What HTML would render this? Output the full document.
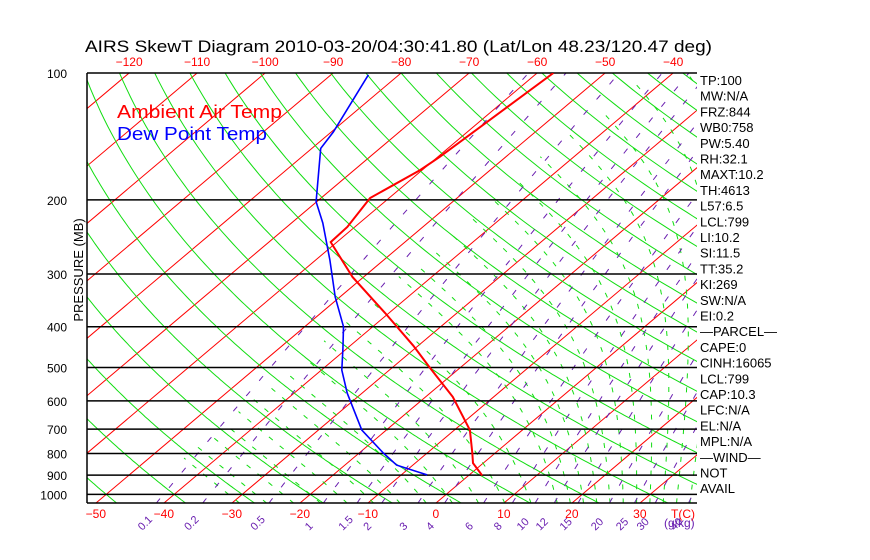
<!DOCTYPE html>
<html><head><meta charset="utf-8"><style>
html,body{margin:0;padding:0;background:#fff;}
svg{display:block;font-family:"Liberation Sans",sans-serif;}
</style></head><body>
<svg id="chart" width="870" height="560" viewBox="0 0 870 560" xmlns="http://www.w3.org/2000/svg">
<rect width="870" height="560" fill="#fff"/>
<defs><clipPath id="plotclip"><rect x="87" y="73" width="610" height="430"/></clipPath></defs>
<text x="85" y="52" font-size="17" textLength="627" lengthAdjust="spacingAndGlyphs" fill="#000">AIRS SkewT Diagram 2010-03-20/04:30:41.80 (Lat/Lon 48.23/120.47 deg)</text>
<g id="grid" clip-path="url(#plotclip)"></g>
<g id="frame"></g>
<g id="profiles" clip-path="url(#plotclip)"></g>
<g id="labels"></g>
<text x="117" y="118" font-size="18" fill="#ff0000" textLength="165" lengthAdjust="spacingAndGlyphs">Ambient Air Temp</text>
<text x="117" y="140" font-size="18" fill="#0000ff" textLength="150" lengthAdjust="spacingAndGlyphs">Dew Point Temp</text>
<text transform="translate(83,270) rotate(-90)" text-anchor="middle" font-size="13" fill="#000">PRESSURE (MB)</text>
</svg>
<script>
// ---- data ----
const tempP = [100,158,170,198,232,252,305,371,444,501,587,704,797,843,902];
const tempT = [-57.6,-59.7,-60.3,-62.8,-61.1,-60.9,-51.6,-40.6,-30.7,-24.4,-16,-7.7,-3.4,-1.5,2.0];
const dewP = [101,138,151,202,227,278,340,400,452,507,575,704,797,852,899];
const dewT = [-84.5,-79.7,-78.7,-70.1,-65.4,-57.9,-50.7,-44.3,-40.5,-37,-32.2,-23.6,-16.5,-12.4,-6.2];
const pressureTicks = [100,200,300,400,500,600,700,800,900,1000];
const bottomTempTicks = [-50,-40,-30,-20,-10,0,10,20,30];
const topTempTicks = [-120,-110,-100,-90,-80,-70,-60,-50,-40];
const mixRatios = [0.1,0.2,0.5,1,1.5,2,3,4,6,8,10,12,15,20,25,30,40];
const stats = ["TP:100","MW:N/A","FRZ:844","WB0:758","PW:5.40","RH:32.1","MAXT:10.2","TH:4613","L57:6.5","LCL:799","LI:10.2","SI:11.5","TT:35.2","KI:269","SW:N/A"," EI:0.2","\u2014PARCEL\u2014","CAPE:0","CINH:16065","LCL:799","CAP:10.3","LFC:N/A","EL:N/A","MPL:N/A","\u2014WIND\u2014"," NOT","AVAIL"];

// ---- axes ----
const NS="http://www.w3.org/2000/svg";
const X0=87,X1=697,Y0=73,Y1=503,PBOT=1049;
function yP(p){return 73+183*Math.log(p/100);}
function xT(T,p){return 436+6.8*T+1.184*(503-yP(p));}
function mk(tag,attrs,parent){const e=document.createElementNS(NS,tag);for(const k in attrs)e.setAttribute(k,attrs[k]);parent.appendChild(e);return e;}
const grid=document.getElementById('grid'),frame=document.getElementById('frame'),prof=document.getElementById('profiles'),labels=document.getElementById('labels');
function pathFrom(pts){return pts.map((q,i)=>(i?'L':'M')+q[0].toFixed(1)+' '+q[1].toFixed(1)).join(' ');}
const pLevels=[];for(let p=PBOT;p>=100;p-=5)pLevels.push(p);pLevels.push(100);

// isotherms
for(let T=-180;T<=50;T+=10){
  const e=mk('line',{x1:xT(T,PBOT),y1:yP(PBOT),x2:xT(T,100),y2:yP(100),stroke:'#ff0000','stroke-width':1},grid);
  
  
}
// dry adiabats
for(let th=-80;th<=260;th+=10){
  const pts=pLevels.map(p=>[xT((th+273.15)*Math.pow(p/1000,0.286)-273.15,p),yP(p)]);
  const e=mk('path',{d:pathFrom(pts),fill:'none',stroke:'#11dd11','stroke-width':1},grid);
  
  
}
// moist adiabats
function es(T){return 6.112*Math.exp(17.67*T/(T+243.5));}
function dTdp(T,p){const Tk=T+273.15;const rs=0.622*es(T)/(p-es(T));const L=2.5e6,Rd=287,cp=1004;
  return (Rd*Tk+L*rs)/(p*(cp+L*L*rs*0.622/(Rd*Tk*Tk)));}
const thetaW=[];
for(let t=-32;t<=16;t+=4)thetaW.push(t);
for(let t=18;t<=46;t+=2)thetaW.push(t);
thetaW.forEach(tw=>{
  let T=tw,p=1000;const up=[];
  while(p>100 && T>-45){up.push([xT(T,p),yP(p)]);const h=-2;T+=dTdp(T,p)*h;p+=h;}
  T=tw;p=1000;const dn=[];
  while(p<PBOT){const h=2;T+=dTdp(T,p)*h;p+=h;dn.push([xT(T,p),yP(p)]);}
  const pts=dn.reverse().concat(up);
  if(pts.length<2)return;
  const e=mk('path',{d:pathFrom(pts),fill:'none',stroke:'#11dd11','stroke-width':1,'stroke-dasharray':'5,9'},grid);
  
  
});
// mixing ratio lines
function tdFromW(w,p){const e=w*p/(622+w);const l=Math.log(e/6.112);return 243.5*l/(17.67-l);}
mixRatios.forEach(w=>{
  const pts=pLevels.map(p=>[xT(tdFromW(w,p),p),yP(p)]);
  const e=mk('path',{d:pathFrom(pts),fill:'none',stroke:'#6a1fb0','stroke-width':1,'stroke-dasharray':'6,14'},grid);
  
  
  const lx=xT(tdFromW(w,PBOT),PBOT)-14;
  if(lx<690){
    const t=mk('text',{transform:`translate(${lx.toFixed(1)},531) rotate(-45)`,'font-size':11,fill:'#6a1fb0'},labels);
    t.textContent=String(w);
    
    
  }
});
{const t=mk('text',{x:664,y:527,'font-size':12,fill:'#6a1fb0'},labels);t.textContent='(g/kg)';

}

// pressure lines and labels
pressureTicks.forEach(p=>{
  const y=yP(p);
  const l=mk('line',{x1:X0,y1:y,x2:X1,y2:y,stroke:'#000','stroke-width':1.5},frame);
  
  
  const t=mk('text',{x:67,y:y+5,'font-size':12,'text-anchor':'end',fill:'#000'},labels);
  t.textContent=String(p);
  
  
});
{const b=mk('line',{x1:X0,y1:Y1,x2:X1,y2:Y1,stroke:'#000','stroke-width':1.5},frame);


const lft=mk('line',{x1:X0,y1:Y0,x2:X0,y2:Y1,stroke:'#000','stroke-width':1.5},frame);

}

bottomTempTicks.forEach(T=>{
  const t=mk('text',{x:xT(T,PBOT),y:518,'font-size':12,'text-anchor':'middle',fill:'#ff0000'},labels);
  t.textContent=T<0?'\u2212'+Math.abs(T):String(T);
  
  
});
{const t=mk('text',{x:683,y:518,'font-size':12,'text-anchor':'middle',fill:'#ff0000'},labels);t.textContent='T(C)';

}
topTempTicks.forEach(T=>{
  const t=mk('text',{x:xT(T,100),y:66,'font-size':12,'text-anchor':'middle',fill:'#ff0000'},labels);
  t.textContent='\u2212'+Math.abs(T);
  
  
});
stats.forEach((s,i)=>{
  const t=mk('text',{x:700,y:85+i*15.7,'font-size':13,fill:'#000','xml:space':'preserve'},labels);
  t.textContent=s;
  
  
});

// profiles
{const pts=tempP.map((p,i)=>[xT(tempT[i],p),yP(p)]);
const e=mk('path',{d:pathFrom(pts),fill:'none',stroke:'#ff0000','stroke-width':2},prof);

}
{const pts=dewP.map((p,i)=>[xT(dewT[i],p),yP(p)]);
const e=mk('path',{d:pathFrom(pts),fill:'none',stroke:'#0000ff','stroke-width':1.6},prof);

}
</script>
</body></html>
